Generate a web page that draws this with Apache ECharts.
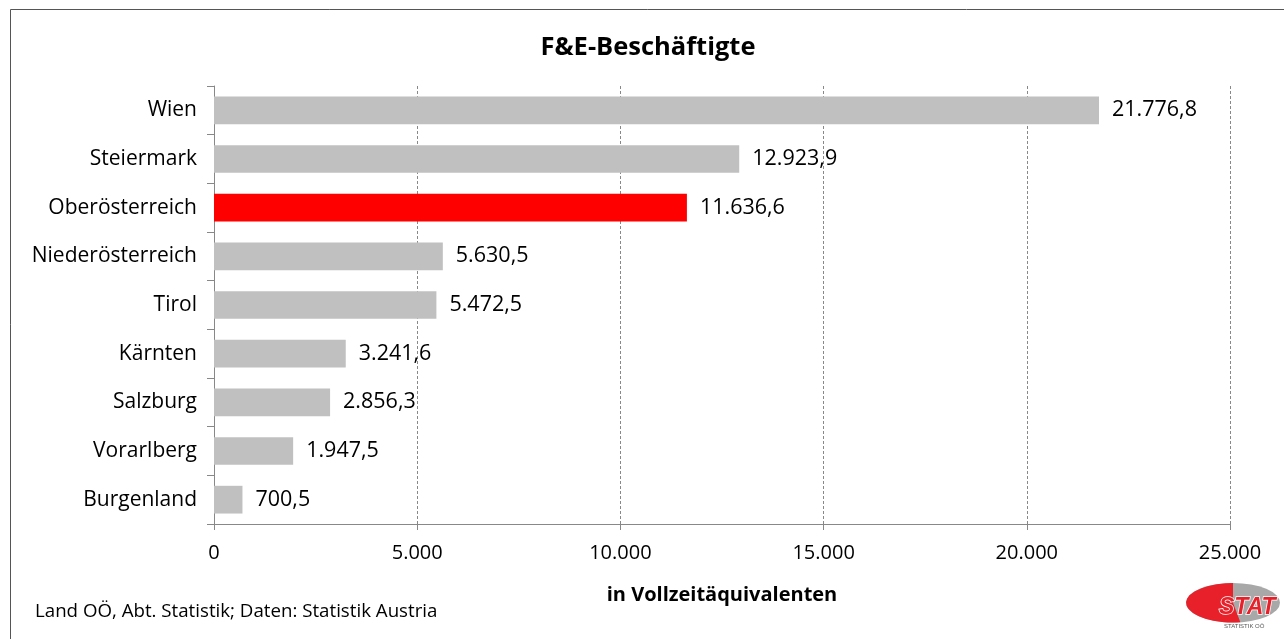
<!DOCTYPE html>
<html><head><meta charset="utf-8">
<script src="https://cdn.jsdelivr.net/npm/echarts@6/dist/echarts.min.js"></script>
<style>html,body{margin:0;padding:0;background:#fff}#c{width:1284px;height:639px}</style>
</head><body><div id="c"></div>
<script>
const categories = ['Wien','Steiermark','Oberösterreich','Niederösterreich','Tirol','Kärnten','Salzburg','Vorarlberg','Burgenland'];
const values = [21776.8, 12923.9, 11636.6, 5630.5, 5472.5, 3241.6, 2856.3, 1947.5, 700.5];
const highlight = 'Oberösterreich';
const titleText = 'F&E-Beschäftigte';
const axisName = 'in Vollzeitäquivalenten';
const sourceText = 'Land OÖ, Abt. Statistik; Daten: Statistik Austria';

const FONT = 'Open Sans';
function fmt(v, dec) {
  const parts = v.toFixed(dec).split('.');
  parts[0] = parts[0].replace(/\B(?=(\d{3})+(?!\d))/g, '.');
  return parts.join(',');
}
const chart = echarts.init(document.getElementById('c'));
chart.setOption({
  animation: false,
  backgroundColor: '#fff',
  textStyle: {fontFamily: FONT},
  title: {text: titleText, left: 643, top: 30, textAlign: 'center',
    textStyle: {fontFamily: FONT, fontSize: 25.5, fontWeight: 'bold', color: '#000'}},
  grid: {left: 214, right: 54, top: 86, bottom: 115, containLabel: false},
  xAxis: {
    type: 'value', min: 0, max: 25000, interval: 5000,
    name: axisName, nameLocation: 'middle', nameGap: 61,
    nameTextStyle: {fontFamily: FONT, fontSize: 20, fontWeight: 'bold', color: '#000'},
    axisLine: {show: true, lineStyle: {color: '#888'}},
    axisTick: {show: true, length: 6, lineStyle: {color: '#888'}},
    axisLabel: {fontFamily: FONT, fontSize: 20, color: '#000', margin: 19, formatter: v => fmt(v, 0)},
    splitLine: {show: true, lineStyle: {color: '#888', type: [3, 2], width: 1}}
  },
  yAxis: {
    type: 'category', data: categories, inverse: true,
    axisLine: {show: true, lineStyle: {color: '#888'}},
    axisTick: {show: true, length: 7, alignWithLabel: false, lineStyle: {color: '#888'}},
    axisLabel: {fontFamily: FONT, fontSize: 21, color: '#000', margin: 17}
  },
  series: [{
    type: 'bar', barCategoryGap: '43%',
    data: values.map((v, i) => ({value: v, itemStyle: {color: categories[i] === highlight ? '#ff0000' : '#c0c0c0'}})),
    label: {show: true, position: 'right', distance: 13, fontFamily: FONT, fontSize: 21.5, color: '#000',
      formatter: p => fmt(p.value, 1)}
  }],
  graphic: [
    {type: 'rect', shape: {x: 10.5, y: 9.5, width: 1290, height: 700}, style: {fill: 'none', stroke: '#555', lineWidth: 1}, silent: true},
    {type: 'text', left: 35, top: 602, style: {text: sourceText, font: '18.7px ' + FONT, fill: '#000'}},
    {type: 'group', left: 1186, top: 583, children: [
      {type: 'sector', shape: {cx: 47, cy: 20, r: 47, r0: 0, startAngle: 0, endAngle: Math.PI * 2}, scaleY: 0.42, originY: 20,
        style: {fill: '#a8a8a8'}},
      {type: 'sector', shape: {cx: 47, cy: 20, r: 47, r0: 0, startAngle: Math.PI * 0.45, endAngle: Math.PI * 1.5}, scaleY: 0.42, originY: 20,
        style: {fill: '#e8202a'}},
      {type: 'text', x: 33, y: 13, style: {text: 'STAT', font: 'italic bold 23px Liberation Sans', fill: '#e8202a', stroke: '#fff', lineWidth: 1.5}},
      {type: 'text', x: 38, y: 41, style: {text: 'STATISTIK OÖ', font: '6px Liberation Sans', fill: '#555'}}
    ]}
  ]
});
</script></body></html>
